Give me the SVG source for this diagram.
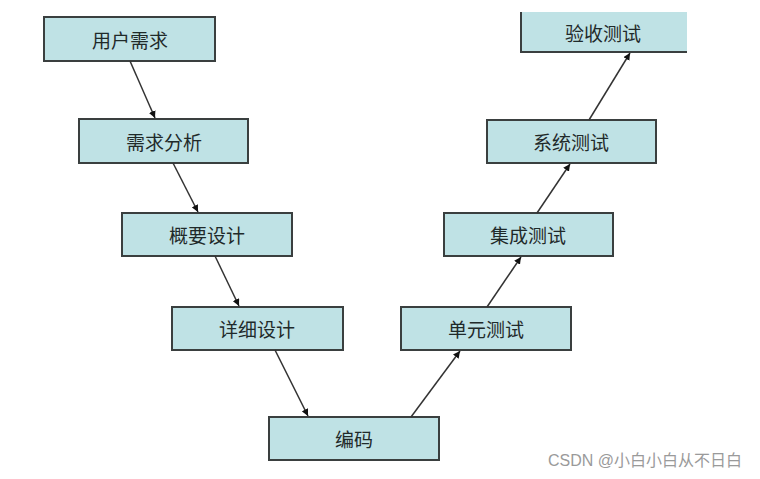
<svg xmlns="http://www.w3.org/2000/svg" width="760" height="479" viewBox="0 0 760 479">
<style>
.box{fill:#bfe2e5;stroke:#3a3f3f;stroke-width:2}
.lbl{font-family:"Noto Sans CJK SC","Noto Sans",sans-serif;font-size:19px;fill:#1f2a2a;text-anchor:middle;dominant-baseline:central;font-weight:400}
.edge{stroke:#333;stroke-width:1.5;fill:none;marker-end:url(#ah)}
.wm{font-family:"Liberation Sans","Noto Sans CJK SC",sans-serif;font-size:16px;fill:#9a9a9a}
</style>
<defs>
<marker id="ah" viewBox="0 0 10 10" refX="10" refY="5" markerWidth="7" markerHeight="7" markerUnits="userSpaceOnUse" orient="auto">
<path d="M0,0 L10,5 L0,10 z" fill="#111"/>
</marker>
</defs>
<rect width="760" height="479" fill="#ffffff"/>
<g id="n1"><rect class="box" x="44" y="17" width="171" height="44"/><text class="lbl" x="130" y="39">用户需求</text></g>
<g id="n2"><rect class="box" x="79" y="119" width="169" height="44"/><text class="lbl" x="164" y="141">需求分析</text></g>
<g id="n3"><rect class="box" x="122" y="213" width="170" height="43"/><text class="lbl" x="207" y="234">概要设计</text></g>
<g id="n4"><rect class="box" x="172" y="307" width="171" height="43"/><text class="lbl" x="257" y="328">详细设计</text></g>
<g id="n5"><rect class="box" x="269" y="417" width="170" height="43"/><text class="lbl" x="354" y="438">编码</text></g>
<g id="n6"><rect class="box" x="401" y="307" width="170" height="43"/><text class="lbl" x="486" y="328">单元测试</text></g>
<g id="n7"><rect class="box" x="444" y="213" width="169" height="43"/><text class="lbl" x="528" y="234">集成测试</text></g>
<g id="n8"><rect class="box" x="487" y="120" width="169" height="43"/><text class="lbl" x="571" y="141">系统测试</text></g>
<g id="n9"><rect x="521" y="12" width="166" height="40" fill="#bfe2e5"/><path d="M521,12 V52 H687" fill="none" stroke="#3a3f3f" stroke-width="2"/><text class="lbl" x="603" y="32">验收测试</text></g>
<g id="edges">
<line class="edge" x1="130" y1="61" x2="155" y2="118"/>
<line class="edge" x1="173" y1="163" x2="198" y2="212"/>
<line class="edge" x1="215" y1="256" x2="239" y2="306"/>
<line class="edge" x1="275" y1="350" x2="308" y2="416"/>
<line class="edge" x1="411" y1="417" x2="460" y2="351"/>
<line class="edge" x1="487" y1="307" x2="521" y2="257"/>
<line class="edge" x1="537" y1="213" x2="570" y2="164"/>
<line class="edge" x1="589" y1="120" x2="630" y2="53"/>
</g>
<text class="wm" x="548" y="466">CSDN @小白小白从不日白</text>
</svg>
